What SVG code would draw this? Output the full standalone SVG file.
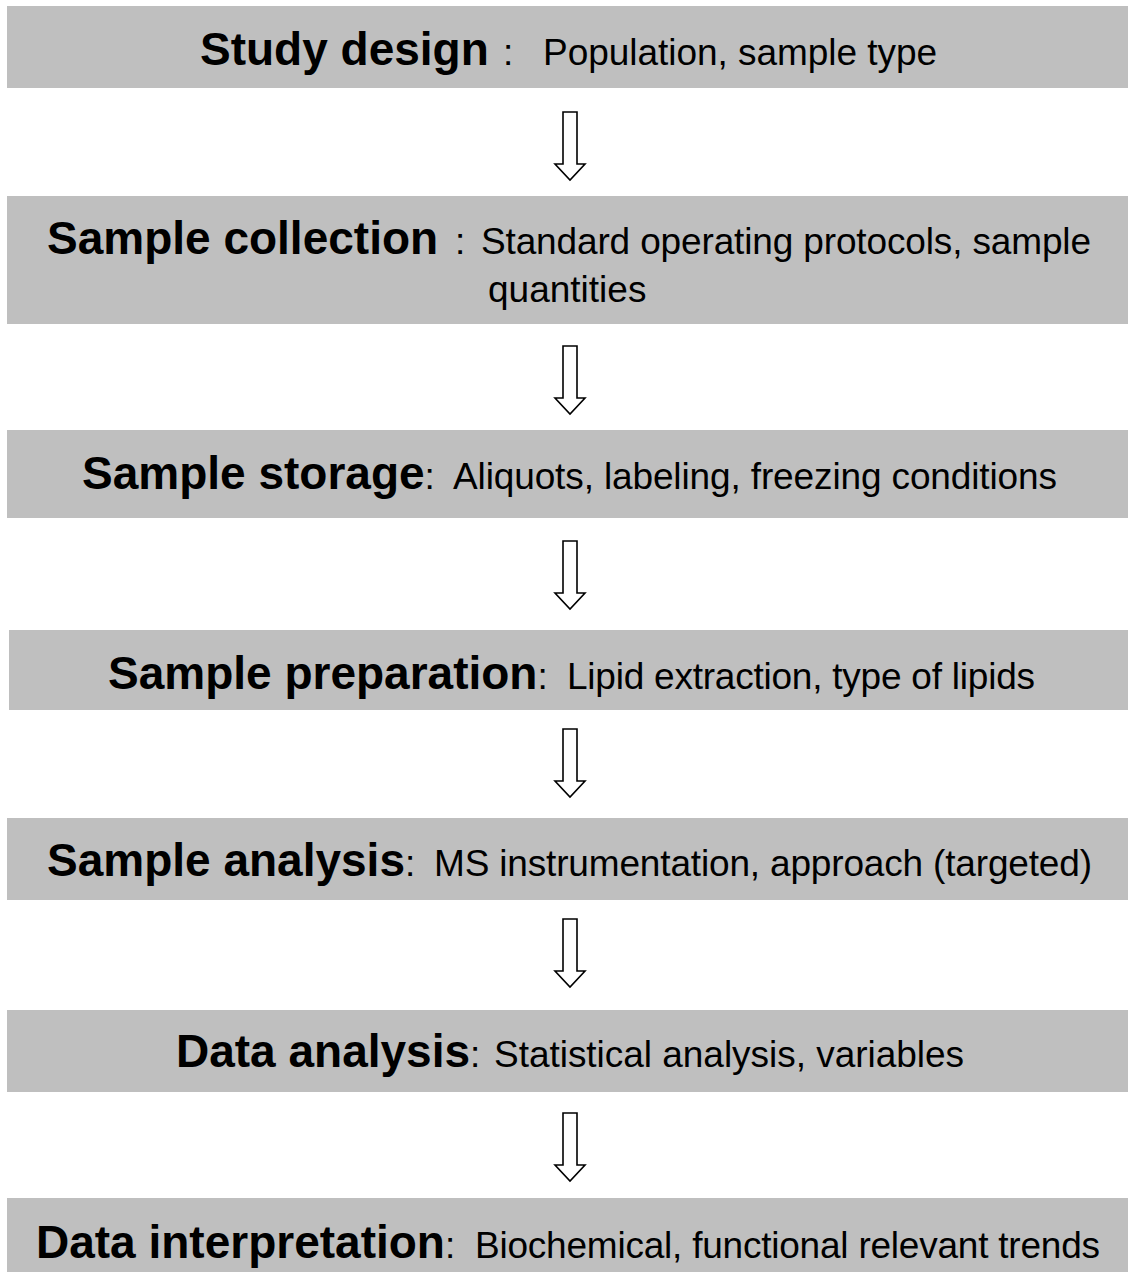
<svg xmlns="http://www.w3.org/2000/svg" xmlns:xlink="http://www.w3.org/1999/xlink" width="1128" height="1272" viewBox="0 0 1128 1272">
<style>
.box{fill:#bfbfbf;}
.t{font-family:"Liberation Sans",Arial,sans-serif;fill:#000;}
.b{font-weight:bold;font-size:46px;}
.n{font-size:37px;}
.arrow{fill:#fff;stroke:#000;stroke-width:1.6;stroke-linejoin:miter;}
</style>
<defs>
<path id="arr" class="arrow" d="M563,0 H577 V52 H585 L570,68 L555,52 H563 Z"/>
</defs>
<rect width="1128" height="1272" fill="#fff"/>
<g id="connectors">
<use xlink:href="#arr" transform="translate(0,112)"/>
<use xlink:href="#arr" transform="translate(0,346)"/>
<use xlink:href="#arr" transform="translate(0,541)"/>
<use xlink:href="#arr" transform="translate(0,729)"/>
<use xlink:href="#arr" transform="translate(0,919)"/>
<use xlink:href="#arr" transform="translate(0,1113)"/>
</g>
<g id="study-design">
<rect class="box" x="7" y="6" width="1121" height="82"/>
<text class="t" y="65"><tspan class="b" x="200">Study design</tspan><tspan class="n" x="503">:</tspan><tspan class="n" x="543" textLength="394">Population, sample type</tspan></text>
</g>
<g id="sample-collection">
<rect class="box" x="7" y="196" width="1121" height="128"/>
<text class="t" y="254"><tspan class="b" x="47">Sample collection</tspan><tspan class="n" x="455">:</tspan><tspan class="n" x="481" textLength="610">Standard operating protocols, sample</tspan></text>
<text class="t n" x="488" y="302">quantities</text>
</g>
<g id="sample-storage">
<rect class="box" x="7" y="430" width="1121" height="88"/>
<text class="t" y="489"><tspan class="b" x="82">Sample storage</tspan><tspan class="n">:</tspan><tspan class="n" x="453" textLength="604">Aliquots, labeling, freezing conditions</tspan></text>
</g>
<g id="sample-preparation">
<rect class="box" x="9" y="630" width="1119" height="80"/>
<text class="t" y="689"><tspan class="b" x="108">Sample preparation</tspan><tspan class="n">:</tspan><tspan class="n" x="567" textLength="468">Lipid extraction, type of lipids</tspan></text>
</g>
<g id="sample-analysis">
<rect class="box" x="7" y="818" width="1121" height="82"/>
<text class="t" y="876"><tspan class="b" x="47">Sample analysis</tspan><tspan class="n">:</tspan><tspan class="n" x="434" textLength="658">MS instrumentation, approach (targeted)</tspan></text>
</g>
<g id="data-analysis">
<rect class="box" x="7" y="1010" width="1121" height="82"/>
<text class="t" y="1067"><tspan class="b" x="176">Data analysis</tspan><tspan class="n">:</tspan><tspan class="n" x="494" textLength="470">Statistical analysis, variables</tspan></text>
</g>
<g id="data-interpretation">
<rect class="box" x="7" y="1198" width="1121" height="74"/>
<text class="t" y="1258"><tspan class="b" x="36">Data interpretation</tspan><tspan class="n">:</tspan><tspan class="n" x="475" textLength="625">Biochemical, functional relevant trends</tspan></text>
</g>
</svg>
